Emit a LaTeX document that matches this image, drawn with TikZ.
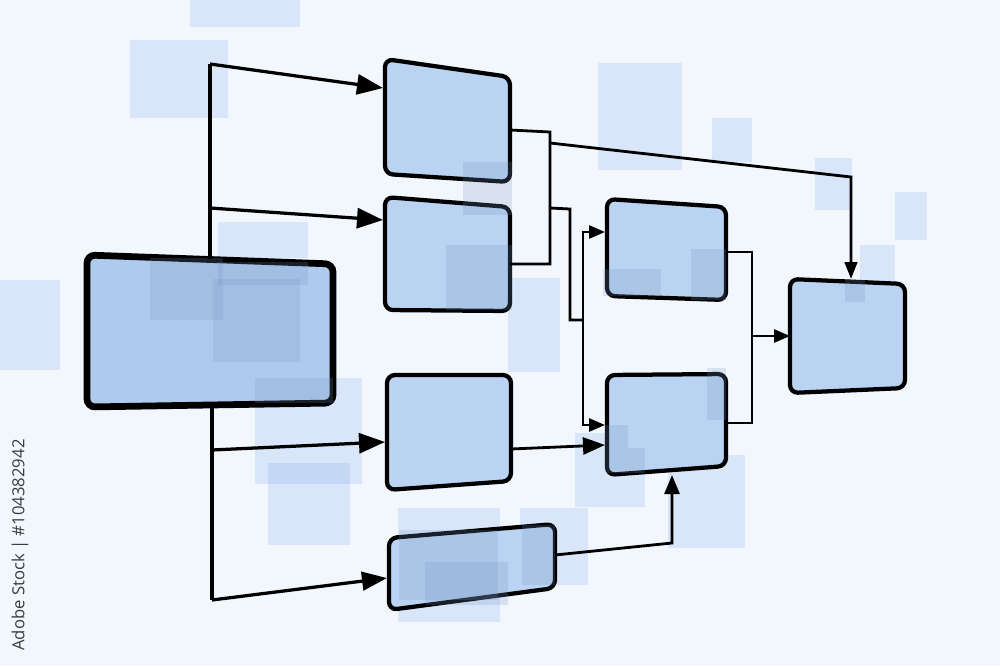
\documentclass[tikz,border=0pt]{standalone}
\usepackage{fontspec}
\newfontfamily\stockfont{Open Sans}
\usetikzlibrary{arrows.meta}

\definecolor{paper}{HTML}{F2F7FD}
\definecolor{boxblue}{HTML}{BAD3F2}
\definecolor{mainblue}{HTML}{AECAEC}
\definecolor{patchblue}{HTML}{7896C3}
\definecolor{skyblue}{HTML}{5E98E6}
\definecolor{stockgray}{HTML}{3C3C3C}

\begin{document}
\begin{tikzpicture}[x=0.2mm, y=-0.2mm,
  flowbox/.style={draw=black, line width=0.85mm, fill=boxblue, rounded corners=1.6mm},
  mainbox/.style={flowbox, fill=mainblue, line width=1.35mm},
  patch/.style={fill=patchblue, opacity=0.22},
  backpatch/.style={fill=skyblue, opacity=0.17},
  link/.style={draw=black, line width=0.65mm},
  thinlink/.style={draw=black, line width=0.56mm},
  arrowlink/.style 2 args={-{Triangle[length=#1, width=#2]}}]

  \useasboundingbox (0,0) rectangle (1000,666);
  \fill[paper] (0,0) rectangle (1000,666);

  % Background squares
  \foreach \a/\b/\c/\d in {190/0/300/27, 130/40/228/118, 598/63/682/170, 712/118/752/162,
      815/158/852/210, 895/192/927/240, 218/222/308/258, 255/378/362/484, 268/463/350/545,
      508/278/560/372, 575/433/645/507, 668/455/745/548, 398/508/500/622, 520/508/588/585,
      0/280/60/370, 860/245/895/310}
    \fill[backpatch] (\a,\b) rectangle (\c,\d);

  % Main box
  \draw[mainbox] (87,255) -- (333,264) -- (333,403) -- (87,407) -- cycle;

  % First column
  \draw[flowbox] (385,59) -- (510,77) -- (510,182) -- (385,174) -- cycle;   % A
  \draw[flowbox] (385,197) -- (510,207) -- (510,311) -- (385,310) -- cycle; % B
  \draw[flowbox] (387,375) -- (511,375) -- (511,481) -- (387,490) -- cycle; % C
  \draw[flowbox] (389,538) -- (555,524) -- (555,588) -- (389,610) -- cycle; % G

  % Second column
  \draw[flowbox] (607,199) -- (726,207) -- (726,300) -- (607,296) -- cycle; % D
  \draw[flowbox] (607,375) -- (726,374) -- (726,466) -- (607,475) -- cycle; % E

  % Last box
  \draw[flowbox] (790,279) -- (905,284) -- (905,388) -- (790,393) -- cycle; % F

  % Squares over the boxes
  \foreach \a/\b/\c/\d in {150/258/223/320, 213/279/300/362, 218/262/308/285, 255/378/333/403,
      463/162/512/215, 446/245/512/310, 603/269/661/296, 691/249/726/300, 707/368/726/420,
      605/425/628/448, 605/448/645/473, 399/530/498/600, 425/562/508/605, 522/525/555/585,
      845/280/865/302}
    \fill[patch] (\a,\b) rectangle (\c,\d);

  % Ports
  \coordinate (mTop) at (210,259);
  \coordinate (mBot) at (212,405);
  \coordinate (t1) at (210,64);
  \coordinate (t2) at (210,208);
  \coordinate (t3) at (212,450);
  \coordinate (t4) at (212,600);
  \coordinate (aIn) at (383,88);
  \coordinate (bIn) at (383,220);
  \coordinate (cIn) at (385,442);
  \coordinate (gIn) at (387,578);
  \coordinate (aOut) at (510,130);
  \coordinate (bOut) at (510,264);
  \coordinate (cOut) at (511,449);
  \coordinate (gOut) at (555,555);
  \coordinate (dOut) at (726,252);
  \coordinate (eOut) at (726,423);
  \coordinate (dIn) at (605,232);
  \coordinate (eIn) at (605,425);
  \coordinate (eInC) at (605,445);
  \coordinate (eInG) at (672,475);
  \coordinate (fTop) at (851,279);
  \coordinate (fIn) at (790,336);

  % Main box to first column
  \draw[link] (mTop) -- (t1);
  \draw[link] (mBot) -- (t4);
  \draw[link, arrowlink={5.2mm}{4mm}] (t1) -- (aIn);
  \draw[link, arrowlink={5.2mm}{4mm}] (t2) -- (bIn);
  \draw[link, arrowlink={5.2mm}{4mm}] (t3) -- (cIn);
  \draw[link, arrowlink={5mm}{3.7mm}] (t4) -- (gIn);

  % A and B joined
  \draw[thinlink] (aOut) -- (550,132) -- (550,264) -- (bOut);
  \draw[thinlink, arrowlink={3.4mm}{2.5mm}] (550,143) -- (851,177) -- (fTop);
  \draw[thinlink] (550,208) -- (570,209) -- (570,320) -- (583,320);
  \draw[thinlink, arrowlink={3.2mm}{2.6mm}] (583,320) |- (dIn);
  \draw[thinlink, arrowlink={3.2mm}{2.6mm}] (583,320) |- (eIn);

  % C and G to E
  \draw[thinlink, arrowlink={4.4mm}{3.4mm}] (cOut) -- (eInC);
  \draw[thinlink, arrowlink={3.8mm}{3mm}] (gOut) -- (672,543) -- (eInG);

  % D and E to F
  \draw[thinlink] (dOut) -- (752,252) -- (752,423) -- (eOut);
  \draw[thinlink, arrowlink={3.2mm}{2.6mm}] (752,336) -- (fIn);

  % Stock label
  \node[rotate=90, text=stockgray, font=\stockfont\fontsize{9.5}{10}\selectfont] (stock)
    at (20,545) {Adobe Stock | \#104382942};

\end{tikzpicture}
\end{document}
